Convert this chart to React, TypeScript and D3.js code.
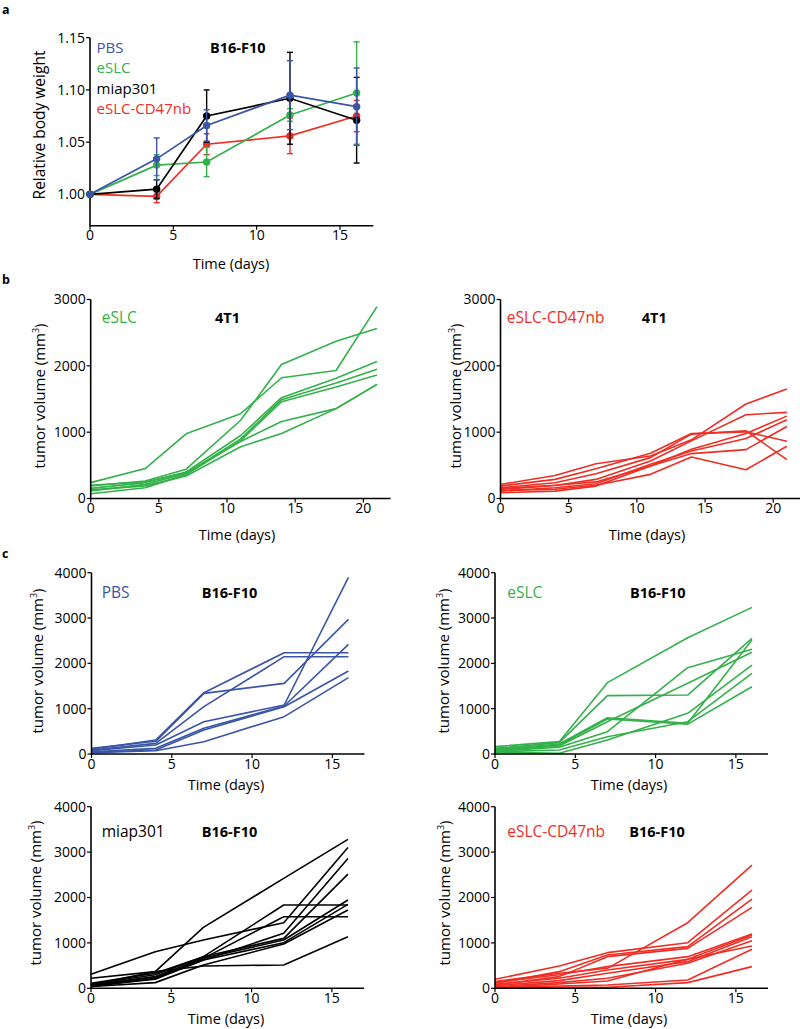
import React from "react";
import * as d3 from "d3";

// ---------- colours ----------
const BLUE = "#3a55a5";
const GREEN = "#33b14a";
const RED = "#ee2e24";
const BLACK = "#000000";
const FONT = "'Open Sans', 'Liberation Sans', Arial, sans-serif";

// ---------- panel a : relative body weight ----------
const weightDays = [0, 4, 7, 12, 16];
const weightPBS = [1.0, 1.034, 1.066, 1.095, 1.084];
const weightPBSErr = [0, 0.02, 0.015, 0.033, 0.037];
const weightESLC = [1.0, 1.028, 1.031, 1.076, 1.097];
const weightESLCErr = [0, 0.01, 0.014, 0.006, 0.049];
const weightMiap = [1.0, 1.005, 1.075, 1.092, 1.071];
const weightMiapErr = [0, 0.009, 0.025, 0.044, 0.041];
const weightCD47 = [1.0, 0.998, 1.048, 1.056, 1.075];
const weightCD47Err = [0, 0.006, 0.01, 0.017, 0.015];
const weightYTicks = [1.0, 1.05, 1.1, 1.15];
const weightXTicks = [0, 5, 10, 15];

// ---------- panel b : 4T1 tumour volumes ----------
const days4T1 = [0, 4, 7, 11, 14, 18, 21];
const t4T1ESLC = [
  [239, 452, 975, 1279, 1820, 1929, 2893],
  [188, 264, 442, 1180, 2020, 2371, 2563],
  [152, 240, 401, 950, 1520, 1812, 2066],
  [112, 213, 376, 900, 1490, 1740, 1949],
  [71, 162, 360, 870, 1460, 1680, 1863],
  [200, 250, 390, 860, 1160, 1355, 1721],
  [130, 190, 340, 780, 980, 1355, 1721],
];
const t4T1CD47 = [
  [212, 348, 525, 640, 884, 1424, 1651],
  [187, 288, 449, 682, 980, 1005, 864],
  [162, 237, 374, 616, 970, 1020, 586],
  [136, 197, 288, 566, 869, 1263, 1298],
  [111, 162, 222, 515, 717, 904, 1187],
  [86, 111, 187, 490, 742, 980, 1242],
  [150, 200, 250, 490, 677, 737, 1086],
  [120, 140, 200, 364, 626, 434, 788],
];
const ticks4T1X = [0, 5, 10, 15, 20];
const ticks4T1Y = [0, 1000, 2000, 3000];

// ---------- panel c : B16-F10 tumour volumes ----------
const daysB16 = [0, 4, 7, 12, 16];
const tB16PBS = [
  [103, 309, 1353, 2235, 2235],
  [125, 280, 1338, 1559, 2971],
  [88, 235, 1044, 2147, 2147],
  [70, 198, 713, 1081, 3897],
  [51, 125, 566, 1059, 2419],
  [40, 88, 529, 1044, 1831],
  [29, 73, 272, 824, 1684],
];
const tB16ESLC = [
  [162, 272, 1574, 2566, 3235],
  [125, 250, 1287, 1301, 2551],
  [103, 221, 801, 676, 2515],
  [88, 200, 772, 660, 1485],
  [70, 176, 713, 1559, 2243],
  [60, 150, 493, 1904, 2309],
  [51, 88, 380, 713, 1779],
  [40, 15, 309, 897, 1963],
];
const tB16Miap = [
  [308, 807, 1064, 1445, 3103],
  [220, 367, 1343, 2421, 3280],
  [110, 330, 697, 1834, 1834],
  [73, 257, 660, 1577, 1577],
  [37, 220, 624, 1211, 2861],
  [90, 300, 697, 1100, 2516],
  [60, 250, 660, 1064, 1944],
  [50, 200, 624, 1005, 1849],
  [40, 125, 514, 976, 1724],
  [80, 367, 492, 514, 1137],
];
const tB16CD47 = [
  [150, 330, 440, 1445, 2715],
  [198, 492, 785, 1005, 2164],
  [110, 367, 734, 917, 1966],
  [73, 257, 697, 880, 1783],
  [130, 300, 477, 697, 1196],
  [90, 220, 404, 638, 1174],
  [60, 169, 330, 587, 1137],
  [37, 125, 220, 550, 1049],
  [15, 95, 161, 638, 932],
  [20, 51, 73, 183, 858],
  [10, 30, 22, 125, 477],
];
const ticksB16X = [0, 5, 10, 15];
const ticksB16Y = [0, 1000, 2000, 3000, 4000];

// ---------- helpers ----------
type Scale = d3.ScaleLinear<number, number>;

function Axes({ xs, ys, xTicks, yTicks, yFmt }: { xs: Scale; ys: Scale; xTicks: number[]; yTicks: number[]; yFmt: (v: number) => string }) {
  const [x0, x1] = xs.range();
  const [yb, yt] = ys.range();
  return (
    <g fontFamily={FONT} fontSize={14} fill="#000">
      <line x1={x0} x2={x1} y1={yb} y2={yb} stroke="#000" strokeWidth={1.6} />
      <line x1={x0} x2={x0} y1={yb + 0.8} y2={yt} stroke="#000" strokeWidth={1.6} />
      {xTicks.map((t) => (
        <g key={"x" + t}>
          <line x1={xs(t)} x2={xs(t)} y1={yb} y2={yb + 4} stroke="#000" strokeWidth={1.2} />
          <text x={xs(t)} y={yb + 14.5} textAnchor="middle">{t}</text>
        </g>
      ))}
      {yTicks.map((t) => (
        <g key={"y" + t}>
          <line x1={x0 - 4} x2={x0} y1={ys(t)} y2={ys(t)} stroke="#000" strokeWidth={1.2} />
          <text x={x0 - 5} y={ys(t)} dy="0.35em" textAnchor="end">{yFmt(t)}</text>
        </g>
      ))}
    </g>
  );
}

function VolumeTitle({ x, y }: { x: number; y: number }) {
  return (
    <text transform={`translate(${x},${y}) rotate(-90)`} textAnchor="middle" fontFamily={FONT} fontSize={15} fill="#000">
      tumor volume (mm<tspan fontSize={9} dy={-6}>3</tspan><tspan dy={6}>)</tspan>
    </text>
  );
}

type PanelCfg = {
  xr: [number, number];
  yr: [number, number];
  xDomain: [number, number];
  yDomain: [number, number];
  days: number[];
  lines: number[][];
  color: string;
  xTicks: number[];
  yTicks: number[];
  legend: string;
  legendX: number;
  cellX: number;
  cell: string;
  textY: number;
  yTitleX: number;
  yTitleY: number;
  xTitleX: number;
  xTitleY: number;
};

function VolumePanel(c: PanelCfg) {
  const xs = d3.scaleLinear().domain(c.xDomain).range(c.xr);
  const ys = d3.scaleLinear().domain(c.yDomain).range(c.yr);
  const line = d3
    .line<number>()
    .x((_, i) => xs(c.days[i]))
    .y((v) => ys(v));
  return (
    <g>
      <g fill="none" stroke={c.color} strokeWidth={1.6} strokeLinejoin="round">
        {c.lines.map((l, i) => (
          <path key={i} d={line(l) || ""} />
        ))}
      </g>
      <Axes xs={xs} ys={ys} xTicks={c.xTicks} yTicks={c.yTicks} yFmt={(v) => String(v)} />
      <text x={c.legendX} y={c.textY} fontFamily={FONT} fontSize={15.5} fill={c.color}>{c.legend}</text>
      <text x={c.cellX} y={c.textY} fontFamily={FONT} fontSize={14.5} fontWeight="bold" fill="#000">{c.cell}</text>
      <VolumeTitle x={c.yTitleX} y={c.yTitleY} />
      <text x={c.xTitleX} y={c.xTitleY} textAnchor="middle" fontFamily={FONT} fontSize={14.5} fill="#000">Time (days)</text>
    </g>
  );
}

function WeightPanel() {
  const xs = d3.scaleLinear().domain([0, 17]).range([90, 373.3]);
  const ys = d3.scaleLinear().domain([0.97, 1.15]).range([225.7, 37.7]);
  const series = [
    { name: "eSLC-CD47nb", color: RED, v: weightCD47, e: weightCD47Err },
    { name: "eSLC", color: GREEN, v: weightESLC, e: weightESLCErr },
    { name: "miap301", color: BLACK, v: weightMiap, e: weightMiapErr },
    { name: "PBS", color: BLUE, v: weightPBS, e: weightPBSErr },
  ];
  const legend = [
    { name: "PBS", color: BLUE },
    { name: "eSLC", color: GREEN },
    { name: "miap301", color: BLACK },
    { name: "eSLC-CD47nb", color: RED },
  ];
  const line = (vals: number[]) =>
    d3
      .line<number>()
      .x((_, i) => xs(weightDays[i]))
      .y((v) => ys(v))(vals) || "";
  return (
    <g>
      <Axes xs={xs} ys={ys} xTicks={weightXTicks} yTicks={weightYTicks} yFmt={d3.format(".2f")} />
      {series.map((s) => (
        <g key={s.name}>
          <path d={line(s.v)} fill="none" stroke={s.color} strokeWidth={1.7} />
          {s.v.map((v, i) =>
            s.e[i] > 0 ? (
              <g key={i} stroke={s.color} strokeWidth={1.4}>
                <line x1={xs(weightDays[i])} x2={xs(weightDays[i])} y1={ys(v - s.e[i])} y2={ys(v + s.e[i])} />
                <line x1={xs(weightDays[i]) - 3} x2={xs(weightDays[i]) + 3} y1={ys(v - s.e[i])} y2={ys(v - s.e[i])} />
                <line x1={xs(weightDays[i]) - 3} x2={xs(weightDays[i]) + 3} y1={ys(v + s.e[i])} y2={ys(v + s.e[i])} />
              </g>
            ) : null
          )}
          {s.v.map((v, i) => (
            <circle key={"c" + i} cx={xs(weightDays[i])} cy={ys(v)} r={3.7} fill={s.color} />
          ))}
        </g>
      ))}
      {legend.map((l, i) => (
        <text key={l.name} x={96.5} y={52.5 + i * 20.6} fontFamily={FONT} fontSize={15} fill={l.color}>{l.name}</text>
      ))}
      <text x={210} y={53} fontFamily={FONT} fontSize={14.5} fontWeight="bold">B16-F10</text>
      <text transform="translate(45,125) rotate(-90)" textAnchor="middle" fontFamily={FONT} fontSize={15.5}>Relative body weight</text>
      <text x={231} y={268.5} textAnchor="middle" fontFamily={FONT} fontSize={14.5}>Time (days)</text>
    </g>
  );
}

export default function App() {
  const b = { xDomain: [0, 22] as [number, number], yDomain: [0, 3000] as [number, number], yr: [498.5, 299.5] as [number, number], days: days4T1, xTicks: ticks4T1X, yTicks: ticks4T1Y, cell: "4T1", textY: 323, yTitleY: 396, xTitleY: 540 };
  const cTop = { xDomain: [0, 17] as [number, number], yDomain: [0, 4000] as [number, number], yr: [754, 572.7] as [number, number], days: daysB16, xTicks: ticksB16X, yTicks: ticksB16Y, cell: "B16-F10", textY: 598, yTitleY: 661, xTitleY: 789.5 };
  const cBot = { ...cTop, yr: [988.3, 806.7] as [number, number], textY: 837, yTitleY: 893, xTitleY: 1023.5 };
  return (
    <svg width={800} height={1029} style={{ position: "absolute", left: 0, top: 0, background: "#fff" }}>
      <rect width={800} height={1029} fill="#fff" />
      <g fontFamily={FONT} fontWeight="bold" fontSize={12.5}>
        <text x={2} y={14}>a</text>
        <text x={2} y={284}>b</text>
        <text x={2} y={558}>c</text>
      </g>
      <WeightPanel />
      <VolumePanel {...b} xr={[90.7, 390.6]} lines={t4T1ESLC} color={GREEN} legend="eSLC" legendX={101.7} cellX={215} yTitleX={45} xTitleX={237} />
      <VolumePanel {...b} xr={[500.5, 800.5]} lines={t4T1CD47} color={RED} legend="eSLC-CD47nb" legendX={506.7} cellX={641.7} yTitleX={461} xTitleX={647} />
      <VolumePanel {...cTop} xr={[91.5, 364.5]} lines={tB16PBS} color={BLUE} legend="PBS" legendX={101.7} cellX={201.7} yTitleX={42.5} xTitleX={226} />
      <VolumePanel {...cTop} xr={[495, 768]} lines={tB16ESLC} color={GREEN} legend="eSLC" legendX={507.3} cellX={630} yTitleX={449} xTitleX={629} />
      <VolumePanel {...cBot} xr={[91, 364]} lines={tB16Miap} color={BLACK} legend="miap301" legendX={101.7} cellX={201.7} yTitleX={41} xTitleX={226} />
      <VolumePanel {...cBot} xr={[495, 768]} lines={tB16CD47} color={RED} legend="eSLC-CD47nb" legendX={507.3} cellX={629.3} yTitleX={450} xTitleX={629} />
    </svg>
  );
}
